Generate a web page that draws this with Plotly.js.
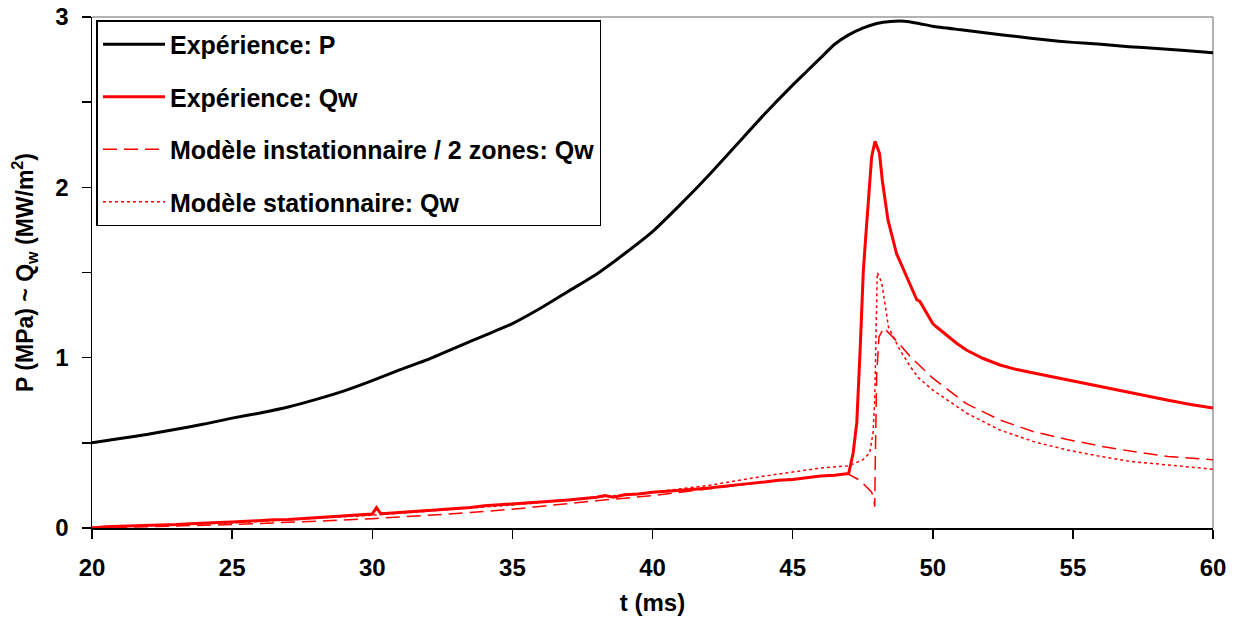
<!DOCTYPE html>
<html><head><meta charset="utf-8">
<script src="https://cdn.plot.ly/plotly-3.0.1.min.js"></script>
<style>html,body{margin:0;padding:0;background:#fff;}#chart{width:1238px;height:628px;}</style>
</head><body><div id="chart"></div>
<script>
// Expérience: P (MPa)
const tP = [20,21,22,23,24,25,26,27,28,29,30,31,32,33,34,35,36,37,38,39,40,41,42,43,44,45,45.5,46,46.5,47,47.5,48,48.5,49,49.5,50,51,52,53,54,55,56,57,58,59,60];
const vP = [0.50,0.525,0.55,0.58,0.61,0.645,0.675,0.71,0.755,0.805,0.865,0.93,0.99,1.06,1.13,1.20,1.29,1.39,1.49,1.61,1.74,1.90,2.07,2.25,2.43,2.60,2.68,2.76,2.84,2.895,2.935,2.962,2.974,2.975,2.962,2.946,2.925,2.905,2.885,2.866,2.851,2.84,2.826,2.815,2.804,2.79];

// Expérience: Qw (MW/m²)
const tQexp = [20,20.5,21,21.5,22,22.5,23,23.5,24,24.5,25,25.5,26,26.5,27,27.5,28,28.5,29,29.5,30,30.15,30.3,30.45,31,31.5,32,32.5,33,33.5,34,34.5,35,35.5,36,36.5,37,37.5,38,38.3,38.6,39,39.5,40,40.5,41,41.5,42,42.5,43,43.5,44,44.5,45,45.5,46,46.5,47,47.16,47.29,47.41,47.52,47.6,47.76,47.82,47.94,48.1,48.2,48.4,48.71,49.07,49.43,49.54,50.0,50.14,50.6,50.85,51.2,51.8,52.4,53.0,53.6,54.2,54.8,55.4,55.97,56.5,57.1,57.7,58.4,59.2,60];
const vQexp = [0.0,0.008,0.01,0.012,0.016,0.018,0.02,0.025,0.03,0.032,0.035,0.04,0.042,0.048,0.05,0.055,0.062,0.065,0.07,0.075,0.082,0.12,0.085,0.085,0.09,0.095,0.10,0.108,0.115,0.12,0.13,0.135,0.14,0.145,0.15,0.158,0.165,0.172,0.18,0.19,0.18,0.195,0.2,0.21,0.215,0.22,0.228,0.235,0.245,0.255,0.262,0.27,0.28,0.285,0.295,0.305,0.31,0.32,0.44,0.62,1.05,1.5,1.69,2.04,2.18,2.27,2.2,2.04,1.81,1.61,1.476,1.34,1.33,1.20,1.18,1.115,1.085,1.045,0.995,0.957,0.93,0.91,0.89,0.87,0.85,0.83,0.81,0.79,0.77,0.75,0.725,0.705];

// Modèle instationnaire / 2 zones: Qw
const tQinst = [20,22,25,28,30,33,35,38,40,42,44,46,47,47.4,47.64,47.82,47.9,47.93,47.95,48.0,48.08,48.25,48.7,49.2,50.0,51.2,52.4,53.6,54.8,56,57.1,58.4,60];
const vQinst = [0.0,0.008,0.02,0.04,0.055,0.085,0.11,0.16,0.19,0.23,0.27,0.305,0.315,0.28,0.24,0.21,0.17,0.125,0.4,0.9,1.12,1.175,1.10,1.006,0.88,0.73,0.634,0.565,0.52,0.48,0.45,0.42,0.40];

// Modèle stationnaire: Qw
const tQstat = [20,25,30,35,40,42,44,45,46,47,47.5,47.75,47.87,47.93,47.97,48.02,48.18,48.3,48.42,48.83,49.2,49.5,50.0,51.2,52.4,53.6,54.8,56,57.1,58.4,60];
const vQstat = [0.005,0.03,0.075,0.135,0.21,0.25,0.305,0.33,0.352,0.365,0.4,0.44,0.56,0.75,1.1,1.5,1.44,1.3,1.18,1.045,0.947,0.88,0.81,0.675,0.575,0.507,0.458,0.42,0.39,0.37,0.345];

const names = ['Expérience: P','Expérience: Qw','Modèle instationnaire / 2 zones: Qw','Modèle stationnaire: Qw'];

const yTickVals = [0,1,2,3];
const yMinorTickVals = [0.5,1.5,2.5];
const xTickVals = [20,25,30,35,40,45,50,55,60];

const traces = [
  {x:tP,y:vP,name:names[0],mode:'lines',line:{color:'#000000',width:3,shape:'spline',smoothing:0.6},legendgroup:'a'},
  {x:tQexp,y:vQexp,name:names[1],mode:'lines',line:{color:'#ff0000',width:3},legendgroup:'b'},
  {x:tQinst,y:vQinst,name:names[2],mode:'lines',line:{color:'#ff0000',width:1.5,dash:'14px,7px'},legendgroup:'c'},
  {x:tQstat,y:vQstat,name:names[3],mode:'lines',line:{color:'#ff0000',width:1.5,dash:'3px,3px'},legendgroup:'d'}
];

const fam = 'Liberation Sans, Arial, sans-serif';
const layout = {
  width:1238,height:628,
  margin:{l:92,r:25,t:17,b:100},
  paper_bgcolor:'#ffffff',plot_bgcolor:'#ffffff',
  showlegend:true,
  legend:{x:0.004,y:0.994,xanchor:'left',yanchor:'top',bordercolor:'#000',borderwidth:1.5,bgcolor:'#fff',
    font:{family:fam,size:25,color:'#000',weight:'bold'},tracegroupgap:17,traceorder:'grouped',itemwidth:62},
  xaxis:{range:[20,60],tickmode:'array',tickvals:xTickVals,ticks:'outside',ticklen:9,tickwidth:1.5,tickcolor:'#000',
    showline:true,linecolor:'#000',linewidth:1.5,showgrid:false,zeroline:false,ticklabelstandoff:9,
    tickfont:{family:fam,size:24,color:'#000',weight:'bold'},
    title:{text:'t (ms)',font:{family:fam,size:24,color:'#000',weight:'bold'},standoff:14}},
  yaxis:{range:[0,3],tickmode:'array',tickvals:yTickVals,ticks:'outside',ticklen:9,tickwidth:1.5,tickcolor:'#000',
    minor:{tickmode:'array',tickvals:yMinorTickVals,ticks:'outside',ticklen:9,tickwidth:1.5,tickcolor:'#000',showgrid:false},
    showline:true,linecolor:'#000',linewidth:1.5,showgrid:false,zeroline:false,ticklabelstandoff:8,
    tickfont:{family:fam,size:24,color:'#000',weight:'bold'},
    title:{text:'P (MPa) ~ Q<sub>w</sub> (MW/m<sup>2</sup>)',font:{family:fam,size:23,color:'#000',weight:'bold'},standoff:15}},
  shapes:[
    {type:'line',xref:'paper',yref:'paper',x0:0,x1:1,y0:1,y1:1,line:{color:'#999',width:1.5},layer:'below'},
    {type:'line',xref:'paper',yref:'paper',x0:1,x1:1,y0:0,y1:1,line:{color:'#999',width:1.5},layer:'below'}
  ]
};
Plotly.newPlot('chart',traces,layout,{displayModeBar:false,staticPlot:true});
</script></body></html>
